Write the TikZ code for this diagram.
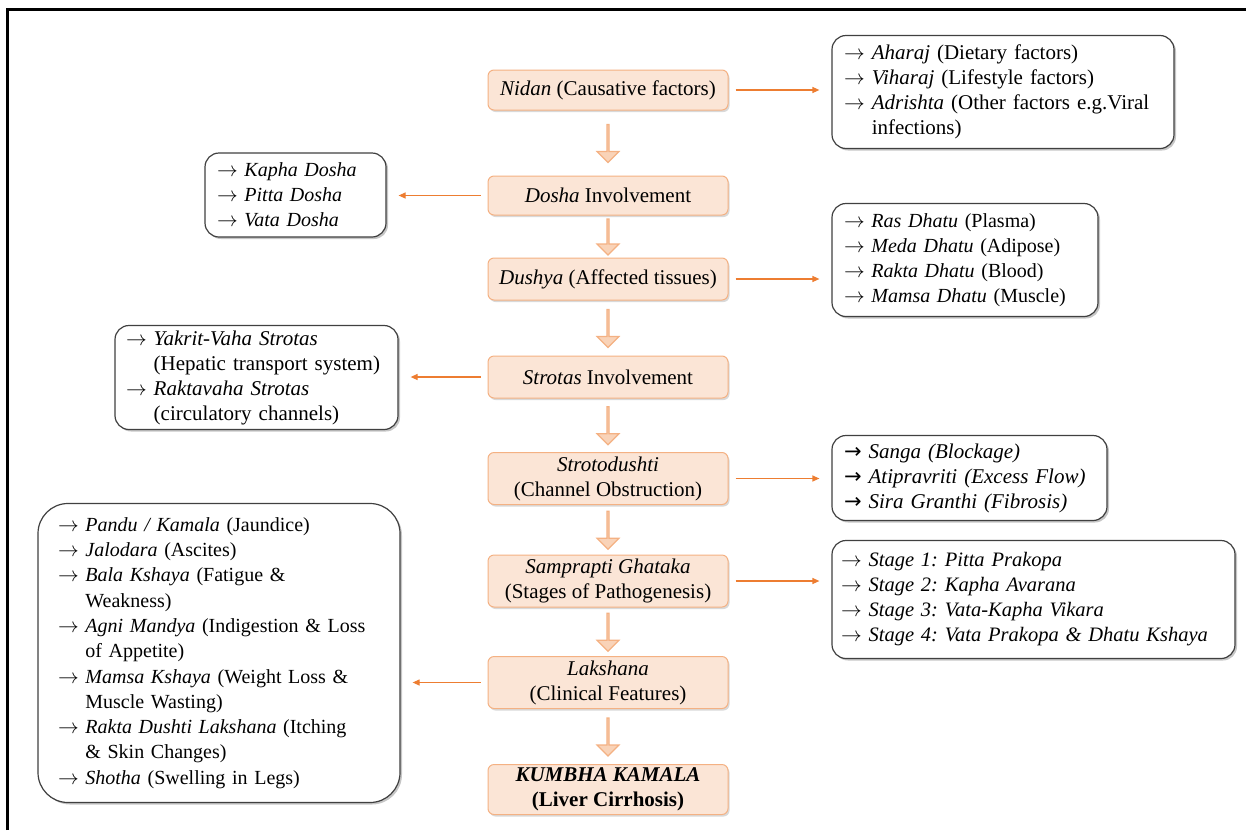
\documentclass[tikz,border=0pt]{standalone}
\usepackage{fontspec}
\setmainfont{Liberation Serif}
\newfontfamily\sansarrow{DejaVu Sans}
\usetikzlibrary{shapes.arrows,shadows,arrows.meta}

\definecolor{peach}{HTML}{FBE5D6}
\definecolor{peachline}{HTML}{F4B183}
\definecolor{arrowfill}{HTML}{F9D3B8}
\definecolor{linkorange}{HTML}{ED7D31}
\definecolor{boxgray}{HTML}{404040}

\newcommand{\ra}{$\rightarrow$\ }
\newcommand{\hang}{\hphantom{$\rightarrow$}\ }
\newcommand{\sra}{{\fontsize{21}{25}\selectfont\sansarrow →}\ }
\newcommand{\listfont}{\fontsize{20}{25}\selectfont}

\tikzset{
  stage/.style={draw=peachline, fill=peach, line width=1pt, rounded corners=6pt,
    minimum width=240pt, align=center, inner sep=0pt,
    drop shadow={shadow xshift=1.5pt, shadow yshift=-2pt, opacity=0.3}},
  listbox/.style={draw=boxgray, fill=white, line width=1.2pt, rounded corners=14pt,
    align=left, inner xsep=12pt, inner ysep=0pt,
    drop shadow={shadow xshift=2pt, shadow yshift=-2pt, opacity=0.45}},
  flow/.style={single arrow, shape border rotate=270, draw=peachline, fill=arrowfill,
    line width=1.2pt, inner sep=0pt, minimum height=38pt, minimum width=22pt,
    single arrow head extend=6pt},
  link/.style={draw=linkorange, line width=1.2pt, -{Triangle[length=7pt,width=6pt]},
    shorten <=7pt, shorten >=12pt}
}

\begin{document}
\frenchspacing
\begin{tikzpicture}[x=1pt, y=-1pt, font=\fontsize{21}{25}\selectfont]
        \useasboundingbox (0,0) rectangle (1246,830);

        % Outer frame
        \draw[line width=3pt] (7,830) -- (7,9.5) -- (1246,9.5);

        % Main column
        \node[stage, minimum height=40pt] (nidan) at (608,90) {\textit{Nidan} (Causative factors)};
        \node[stage, minimum height=39pt] (dosha) at (608,195.5) {\textit{Dosha} Involvement};
        \node[stage, minimum height=42pt] (dushya) at (608,279) {\textit{Dushya} (Affected tissues)};
        \node[stage, minimum height=42pt] (strotas) at (608,377) {\textit{Strotas} Involvement};
        \node[stage, minimum height=52pt] (dushti) at (608,478.5) {\textit{Strotodushti}\\(Channel Obstruction)};
        \node[stage, minimum height=52pt] (samprapti) at (608,581) {\textit{Samprapti Ghataka}\\(Stages of Pathogenesis)};
        \node[stage, minimum height=52pt] (lakshana) at (608,682.5) {\textit{Lakshana}\\(Clinical Features)};
        \node[stage, minimum height=50pt] (kumbha) at (608,789.5) {\textbf{\textit{KUMBHA KAMALA}}\\\textbf{(Liver Cirrhosis)}};

        % Block arrows down the column
        \path (nidan) -- (dosha) node[flow, midway] {};
        \path (dosha) -- (dushya) node[flow, midway, minimum height=36pt] {};
        \path (dushya) -- (strotas) node[flow, midway] {};
        \path (strotas) -- (dushti) node[flow, midway] {};
        \path (dushti) -- (samprapti) node[flow, midway] {};
        \path (samprapti) -- (lakshana) node[flow, midway] {};
        \path (lakshana) -- (kumbha) node[flow, midway] {};

        % Side lists
        \node[listbox, text width=318pt, minimum height=113pt] (nidanlist) at (1003,92)
          {\ra\textit{Aharaj} (Dietary factors)\\
           \ra\textit{Viharaj} (Lifestyle factors)\\
           \ra\textit{Adrishta} (Other factors e.g.Viral\\
           \hang infections)};
        \node[listbox, font=\listfont, text width=157pt, minimum height=84pt] (doshalist) at (295.5,195)
          {\ra\textit{Kapha Dosha}\\
           \ra\textit{Pitta Dosha}\\
           \ra\textit{Vata Dosha}};
        \node[listbox, font=\listfont, text width=242pt, minimum height=113pt] (dushyalist) at (965,260)
          {\ra\textit{Ras Dhatu} (Plasma)\\
           \ra\textit{Meda Dhatu} (Adipose)\\
           \ra\textit{Rakta Dhatu} (Blood)\\
           \ra\textit{Mamsa Dhatu} (Muscle)};
        \node[listbox, text width=261pt, inner xsep=11pt, minimum height=104pt] (strotaslist) at (256.5,377.5)
          {\ra\textit{Yakrit-Vaha Strotas}\\
           \hang(Hepatic transport system)\\
           \ra\textit{Raktavaha Strotas}\\
           \hang(circulatory channels)};
        \node[listbox, text width=251pt, minimum height=85pt] (dushtilist) at (969.5,478)
          {\sra\textit{Sanga (Blockage)}\\
           \sra\textit{Atipravriti (Excess Flow)}\\
           \sra\textit{Sira Granthi (Fibrosis)}};
        \node[listbox, font=\fontsize{20.5}{25}\selectfont, text width=385pt, inner xsep=9pt, minimum height=118pt] (sampraptilist) at (1033.5,599.5)
          {\ra\textit{Stage 1: Pitta Prakopa}\\
           \ra\textit{Stage 2: Kapha Avarana}\\
           \ra\textit{Stage 3: Vata-Kapha Vikara}\\
           \ra\textit{Stage 4: Vata Prakopa \& Dhatu Kshaya}};
        \node[listbox, font=\fontsize{20}{25.3}\selectfont, rounded corners=30pt, inner xsep=20pt, text width=322pt, minimum height=299pt] (lakshanalist) at (219,653)
          {\ra\textit{Pandu / Kamala} (Jaundice)\\
           \ra\textit{Jalodara} (Ascites)\\
           \ra\textit{Bala Kshaya} (Fatigue \&\\
           \hang Weakness)\\
           \ra\textit{Agni Mandya} (Indigestion \& Loss\\
           \hang of Appetite)\\
           \ra\textit{Mamsa Kshaya} (Weight Loss \&\\
           \hang Muscle Wasting)\\
           \ra\textit{Rakta Dushti Lakshana} (Itching\\
           \hang\& Skin Changes)\\
           \ra\textit{Shotha} (Swelling in Legs)};

        % Links to the side lists
        \draw[link] (nidan) -- (nidan -| nidanlist.west);
        \draw[link] (dosha) -- (dosha -| doshalist.east);
        \draw[link] (dushya) -- (dushya -| dushyalist.west);
        \draw[link] (strotas) -- (strotas -| strotaslist.east);
        \draw[link] (dushti) -- (dushti -| dushtilist.west);
        \draw[link] (samprapti) -- (samprapti -| sampraptilist.west);
        \draw[link] (lakshana) -- (lakshana -| lakshanalist.east);

    \end{tikzpicture}
\end{document}
